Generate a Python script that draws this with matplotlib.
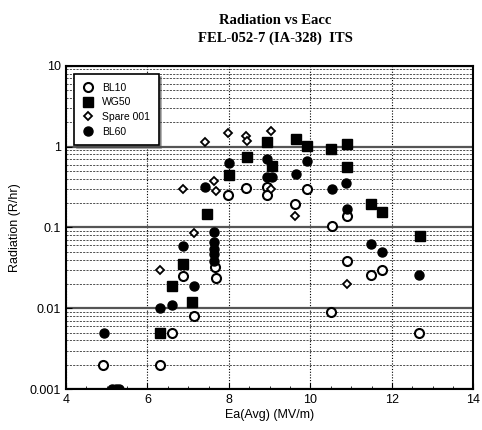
import numpy as np
import matplotlib.pyplot as plt
from matplotlib.ticker import LogLocator, MultipleLocator, FuncFormatter

# BL10 (open circles)
bl10_x = [4.9, 6.3, 6.6, 7.13, 6.86, 7.69, 7.65, 7.98, 8.42, 8.94, 8.94, 9.92,
          9.62, 10.53, 10.9, 10.9, 11.48, 11.75, 10.5, 12.66]
bl10_y = [0.002, 0.002, 0.005, 0.008, 0.025, 0.024, 0.032, 0.25, 0.31, 0.32, 0.25, 0.30,
          0.197, 0.105, 0.14, 0.039, 0.026, 0.030, 0.009, 0.005]

# WG50 (filled squares)
wg50_x = [6.3, 6.6, 6.86, 7.1, 7.45, 8.0, 8.45, 8.94, 9.06, 9.65, 9.92, 10.5,
          10.9, 10.9, 11.48, 11.75, 12.68]
wg50_y = [0.005, 0.019, 0.035, 0.012, 0.148, 0.44, 0.75, 1.15, 0.58, 1.25, 1.03, 0.94,
          1.09, 0.56, 0.196, 0.155, 0.079]

# Spare 001 (open diamonds)
spare_x = [6.3, 6.86, 7.15, 7.42, 7.64, 7.69, 7.98, 8.42, 8.45, 9.04, 9.04, 9.62, 10.9]
spare_y = [0.03, 0.30, 0.086, 1.15, 0.38, 0.28, 1.49, 1.37, 1.19, 1.58, 0.30, 0.14, 0.020]

# BL60 (filled circles)
bl60_x = [4.93, 5.12, 5.22, 5.3, 6.3, 6.6, 6.86, 7.15, 7.42, 7.64, 7.64, 7.64, 7.64,
          7.64, 8.0, 8.94, 8.94, 9.06, 9.65, 9.92, 10.53, 10.87, 10.9, 11.48, 11.75, 12.66]
bl60_y = [0.005, 0.001, 0.001, 0.001, 0.01, 0.011, 0.059, 0.019, 0.32, 0.088, 0.066,
          0.054, 0.047, 0.039, 0.62, 0.71, 0.42, 0.42, 0.46, 0.67, 0.30, 0.35, 0.17,
          0.063, 0.05, 0.026]

plt.rcParams['font.family'] = ['Liberation Sans', 'DejaVu Sans']

fig = plt.figure(figsize=(4.82, 4.30), dpi=100)
ax = fig.add_axes([0.137, 0.095, 0.845, 0.752])

ax.set_yscale('log')
ax.set_xlim(4, 14)
ax.set_ylim(0.001, 10)

# grid
ax.yaxis.set_major_locator(LogLocator(base=10, numticks=10))
ax.yaxis.set_minor_locator(LogLocator(base=10, subs=np.arange(2, 10), numticks=10))
ax.xaxis.set_major_locator(MultipleLocator(2))
ax.xaxis.set_minor_locator(MultipleLocator(0.5))
ax.grid(True, which='major', axis='y', color='#555555', linewidth=1.6, linestyle='-')
ax.grid(True, which='minor', axis='y', color='#333333', linewidth=0.6, linestyle=(0, (2.5, 1.5)))
ax.grid(True, which='major', axis='x', color='black', linewidth=0.8, linestyle=(0, (1, 1.5)))
ax.set_axisbelow(True)

ax.yaxis.set_major_formatter(FuncFormatter(lambda v, p: ('%g' % v)))
ax.tick_params(which='both', direction='in', labelsize=9)
ax.tick_params(which='major', length=4)
ax.tick_params(which='minor', length=2)
ax.tick_params(axis='y', which='minor', length=0)
for s in ax.spines.values():
    s.set_linewidth(1.5)

ax.plot(bl10_x, bl10_y, 'o', ms=6.5, mfc='white', mec='black', mew=1.5, label='BL10', ls='none')
ax.plot(wg50_x, wg50_y, 's', ms=6.5, mfc='black', mec='black', label='WG50', ls='none')
ax.plot(spare_x, spare_y, 'D', ms=4.5, mfc='white', mec='black', mew=1.3, label='Spare 001', ls='none')
ax.plot(bl60_x, bl60_y, 'o', ms=6.5, mfc='black', mec='black', label='BL60', ls='none')

leg = ax.legend(loc='upper left', bbox_to_anchor=(0.015, 0.98), fontsize=7.5,
                frameon=True, fancybox=False, shadow=True, borderpad=0.8,
                labelspacing=0.45, handletextpad=0.9, handlelength=1.0,
                borderaxespad=0.2)
leg.get_frame().set_edgecolor('black')
leg.get_frame().set_linewidth(1.2)
leg.get_frame().set_alpha(1)

ax.set_xlabel('Ea(Avg) (MV/m)', fontsize=9, labelpad=2)
ax.set_ylabel('Radiation (R/hr)', fontsize=9, labelpad=6)

fig.text(0.571, 0.952, 'Radiation vs Eacc', ha='center', va='center',
         fontsize=10.5, fontweight='bold', family='Liberation Serif')
fig.text(0.571, 0.91, 'FEL-052-7 (IA-328)  ITS', ha='center', va='center',
         fontsize=10.5, fontweight='bold', family='Liberation Serif')

fig.savefig('out.png', dpi=100)
